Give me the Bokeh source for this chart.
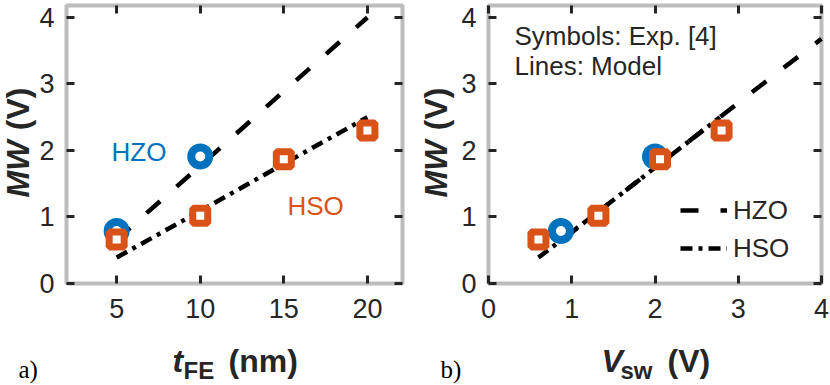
import math
from bokeh.plotting import figure
from bokeh.models import LinearAxis, Label, FixedTicker, Range1d, BoxAnnotation
from bokeh.layouts import row
from bokeh.embed import file_html
from bokeh.resources import INLINE

# ---------------- data ----------------
# experiment (symbols)
hzo_t = [5, 10]
hzo_mw = [0.79, 1.91]
hzo_vsw = [0.87, 2.00]

hso_t = [5, 10, 15, 20]
hso_mw = [0.66, 1.02, 1.87, 2.30]
hso_vsw = [0.60, 1.32, 2.06, 2.80]

# model (lines)
mod_t = [5, 10, 15, 20]
mod_hzo_mw = [0.66, 1.77, 2.89, 4.00]
mod_hso_mw = [0.39, 1.09, 1.80, 2.50]
mod_hzo_vsw = [0.89, 2.03, 3.18, 4.00]
mod_hzo_mw_v = [0.66, 1.77, 2.89, 3.68]
mod_hso_vsw = [0.60, 1.33, 2.06, 2.78]

xticks_a = [5, 10, 15, 20]
xticks_b = [0, 1, 2, 3, 4]
yticks = [0, 1, 2, 3, 4]

BLUE = "#0072BD"
ORANGE = "#D95319"
DARK = "#262626"
FONT = "Liberation Sans"
W = 415
H = 385
Y_LIM = (0, 4.18)
BASE_SHIFT = 0.36  # em, rendered baseline sits this much below the anchor


class Panel:
    """Frame covers the whole canvas; the boxed plot area sits at box_px."""

    def __init__(self, off, box_px, xlim):
        self.off = off
        L, R, T, B = box_px
        self.L, self.R, self.T, self.B = L, R, T, B
        self.xlim = xlim
        self.sx = (xlim[1] - xlim[0]) / (R - L)
        self.sy = (Y_LIM[1] - Y_LIM[0]) / (B - T)
        xr = Range1d(xlim[0] - (L - off) * self.sx, xlim[1] + (off + W - R) * self.sx)
        yr = Range1d(Y_LIM[0] - (H - B) * self.sy, Y_LIM[1] + T * self.sy)
        p = figure(width=W, height=H, output_backend="svg", toolbar_location=None,
                   x_range=xr, y_range=yr, x_axis_location=None, y_axis_location=None)
        p.min_border_left = p.min_border_right = 0
        p.min_border_top = p.min_border_bottom = 0
        p.grid.visible = False
        p.outline_line_color = None
        p.background_fill_color = "white"
        p.border_fill_color = "white"
        self.p = p

    def dx(self, px):
        return self.xlim[0] + (px - self.L) * self.sx

    def dy(self, py):
        return Y_LIM[0] + (self.B - py) * self.sy

    def axes(self, xticks):
        p = self.p
        specs = [("below", xticks, Y_LIM[0], True), ("left", yticks, self.xlim[0], True),
                 ("above", xticks, Y_LIM[1], False), ("right", yticks, self.xlim[1], False)]
        for loc, tk, fixed, show in specs:
            ax = LinearAxis(ticker=FixedTicker(ticks=tk), fixed_location=fixed)
            ax.axis_line_color = None
            ax.major_tick_in = 8
            ax.major_tick_out = 0
            ax.minor_tick_line_color = None
            ax.major_tick_line_color = DARK
            ax.major_tick_line_width = 3
            if show:
                ax.major_label_text_font = FONT
                ax.major_label_text_font_size = "27px"
                ax.major_label_text_color = DARK
                ax.major_label_standoff = 15 if loc == "below" else 12
            else:
                ax.major_label_text_color = None
            p.add_layout(ax, loc)
        p.add_layout(BoxAnnotation(left=self.xlim[0], right=self.xlim[1],
                                   bottom=Y_LIM[0], top=Y_LIM[1],
                                   fill_alpha=0, line_color=DARK, line_width=4))

    def label(self, px, py, text, size=26, color=DARK, style="normal", font=FONT,
              rotated=False, align="left"):
        # (px, py): wanted baseline anchor in page pixels
        if rotated:
            px -= BASE_SHIFT * size
        else:
            py -= BASE_SHIFT * size
        self.p.add_layout(Label(x=self.dx(px), y=self.dy(py), text=text, text_font=font,
                                text_font_size=f"{size}px", text_color=color,
                                text_font_style=style,
                                angle=math.pi / 2 if rotated else 0.0,
                                text_align=align, text_baseline="alphabetic"))


DASH = "18 22"
DASHDOT = "12 6 4 6"

# ---------------- panel a ----------------
A = Panel(0, (66, 402, 5, 283), (2, 22.1))
pa = A.p
pa.line(mod_t, mod_hzo_mw, line_color="black", line_width=4.5, line_dash=DASH)
pa.line(mod_t, mod_hso_mw, line_color="black", line_width=4.5, line_dash=DASHDOT)
pa.scatter(hzo_t, hzo_mw, marker="circle", size=18, line_width=8,
           line_color=BLUE, fill_color="white")
pa.scatter(hso_t, hso_mw, marker="square", size=15, line_width=7,
           line_color=ORANGE, fill_color="white")
A.axes(xticks_a)
A.label(111, 161, "HZO", color=BLUE)
A.label(287, 215, "HSO", color=ORANGE)
A.label(29, 197, "MW", size=32, style="bold italic", rotated=True)
A.label(29, 87, "(V)", size=32, style="bold", rotated=True, align="right")
A.label(172, 372, "t", size=32, style="bold italic")
A.label(183, 379, "FE", size=24, style="bold")
A.label(228, 372, "(nm)", size=32, style="bold")
A.label(18, 378, "a)", size=25, font="Liberation Serif", color="black")

# ---------------- panel b ----------------
B = Panel(415, (488, 821, 5, 283), (0, 4))
pb = B.p
pb.line(mod_hzo_vsw, mod_hzo_mw_v, line_color="black", line_width=4.5, line_dash=DASH,
        legend_label="HZO")
pb.line(mod_hso_vsw, mod_hso_mw, line_color="black", line_width=4.5, line_dash=DASHDOT,
        legend_label="HSO")
pb.scatter(hzo_vsw, hzo_mw, marker="circle", size=18, line_width=8,
           line_color=BLUE, fill_color="white")
pb.scatter(hso_vsw, hso_mw, marker="square", size=15, line_width=7,
           line_color=ORANGE, fill_color="white")
B.axes(xticks_b)
B.label(514, 45, "Symbols: Exp. [4]")
B.label(514, 75, "Lines: Model")
B.label(447, 197, "MW", size=32, style="bold italic", rotated=True)
B.label(447, 87, "(V)", size=32, style="bold", rotated=True, align="right")
B.label(601, 372, "V", size=32, style="bold italic")
B.label(620, 379, "sw", size=24, style="bold")
B.label(667, 372, "(V)", size=32, style="bold")
B.label(440, 378, "b)", size=25, font="Liberation Serif", color="black")

lg = pb.legend[0]
lg.location = (680 - 415, H - 267)
lg.padding = 0
lg.margin = 0
lg.spacing = 0
lg.border_line_color = None
lg.background_fill_alpha = 0
lg.glyph_width = 47
lg.glyph_height = 38
lg.label_height = 38
lg.label_standoff = 6
lg.label_text_font = FONT
lg.label_text_font_size = "26px"
lg.label_text_color = DARK

layout = row(pa, pb, spacing=0)
open("out.html", "w").write(file_html(layout, INLINE))
